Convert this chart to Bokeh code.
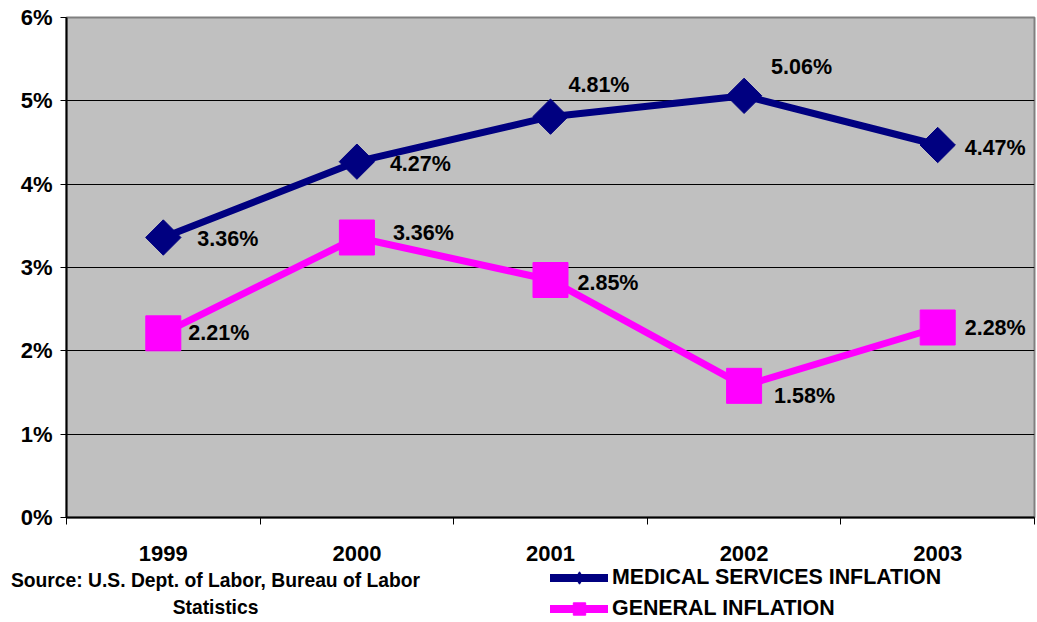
import numpy as np
from bokeh.plotting import figure
from bokeh.layouts import column
from bokeh.models import (Range1d, FixedTicker, PrintfTickFormatter, Legend,
                          LegendItem, Label, ColumnDataSource)
from bokeh.core.properties import value
from bokeh.embed import file_html
from bokeh.resources import INLINE

# ---- data ----
years = ["1999", "2000", "2001", "2002", "2003"]
medical = [3.36, 4.27, 4.81, 5.06, 4.47]
general = [2.21, 3.36, 2.85, 1.58, 2.28]
y_ticks = [0, 1, 2, 3, 4, 5, 6]
series_names = ["MEDICAL SERVICES INFLATION", "GENERAL INFLATION"]
source_lines = ["Source: U.S. Dept. of Labor, Bureau of Labor", "Statistics"]

# ---- label placement (pixels, layout only) ----
med_dx = [34, 33, 18, 27, 27]
med_dy = [1, 2, -32, -29, 3]
gen_dx = [25, 36, 27, 30, 27]
gen_dy = [0, -5, 3, 10, 0]

FONT = "Liberation Sans"
NAVY = "#000080"
MAGENTA = "#FF00FF"
W = 1037
H1 = 564
H2 = 58
OFF = 200  # keeps the strip's own view away from the series values

xs = list(range(len(years)))
src_med = ColumnDataSource(dict(x=xs, y=medical, lab=[f"{v:.2f}%" for v in medical],
                                dx=med_dx, dy=med_dy))
src_gen = ColumnDataSource(dict(x=xs, y=general, lab=[f"{v:.2f}%" for v in general],
                                dx=gen_dx, dy=gen_dy))

p = figure(width=W, height=H1, output_backend="svg", toolbar_location=None,
           x_range=Range1d(-0.5, len(years) - 0.5), y_range=Range1d(0, 6),
           min_border_left=66, min_border_right=3, min_border_top=17, min_border_bottom=47)
p.background_fill_color = "#C0C0C0"
p.border_fill_color = "white"
p.outline_line_color = "#808080"
p.outline_line_width = 2

# axes
p.xaxis.ticker = FixedTicker(ticks=xs, minor_ticks=[i - 0.5 for i in range(len(years) + 1)])
p.xaxis.major_label_overrides = {i: y for i, y in enumerate(years)}
p.xaxis.major_tick_in = 0
p.xaxis.major_tick_out = 0
p.xaxis.minor_tick_in = 0
p.xaxis.minor_tick_out = 7
p.xaxis.minor_tick_line_color = "black"
p.xaxis.major_label_standoff = 21
p.yaxis.ticker = FixedTicker(ticks=y_ticks)
p.yaxis.formatter = PrintfTickFormatter(format="%d%%")
p.yaxis.major_tick_in = 0
p.yaxis.major_tick_out = 6
p.yaxis.minor_tick_line_color = None
p.yaxis.major_label_standoff = 8
for ax in (p.xaxis, p.yaxis):
    ax.axis_line_color = "black"
    ax.axis_line_width = 2
    ax.major_tick_line_color = "black"
    ax.major_label_text_font = FONT
    ax.major_label_text_font_style = "bold"
    ax.major_label_text_color = "black"
p.xaxis.major_label_text_font_size = "22px"
p.yaxis.major_label_text_font_size = "22px"

p.xgrid.visible = False
p.ygrid.ticker = FixedTicker(ticks=y_ticks)
p.ygrid.grid_line_color = "black"
p.ygrid.grid_line_width = 1

# series
p.line("x", "y", source=src_med, line_color=NAVY, line_width=7, line_cap="round")
p.scatter("x", "y", source=src_med, marker="square", angle=np.pi / 4, size=25,
          fill_color=NAVY, line_color=NAVY)
p.line("x", "y", source=src_gen, line_color=MAGENTA, line_width=7, line_cap="round")
p.scatter("x", "y", source=src_gen, marker="square", size=35,
          fill_color=MAGENTA, line_color=MAGENTA)

for src in (src_med, src_gen):
    p.text("x", "y", text="lab", source=src, x_offset="dx", y_offset="dy",
           text_align="left", text_baseline="middle", text_color="black",
           text_font=value(FONT), text_font_style="bold", text_font_size="21.5px")

# ---- bottom strip: source note and legend ----
q = figure(width=W, height=H2, output_backend="svg", toolbar_location=None,
           x_range=Range1d(0, W), y_range=Range1d(-H2 - OFF, -OFF),
           x_axis_location=None, y_axis_location=None,
           min_border_left=0, min_border_right=0, min_border_top=0, min_border_bottom=0)
try:
    q.frame_align = False
except Exception:
    pass
q.grid.visible = False
q.outline_line_color = None
q.background_fill_color = "white"
q.border_fill_color = "white"

k1 = q.line("x", "y", source=src_med, line_color=NAVY, line_width=8, line_cap="round")
d1 = q.scatter("x", "y", source=src_med, marker="diamond", size=16, fill_color=NAVY, line_color=NAVY)
k2 = q.line("x", "y", source=src_gen, line_color=MAGENTA, line_width=8, line_cap="round")
d2 = q.scatter("x", "y", source=src_gen, marker="square", size=16, fill_color=MAGENTA, line_color=MAGENTA)

legend = Legend(items=[LegendItem(label=series_names[0], renderers=[k1, d1]),
                       LegendItem(label=series_names[1], renderers=[k2, d2])],
                location=(550, -2), orientation="vertical",
                glyph_width=58, glyph_height=31, label_height=31, spacing=0,
                padding=0, margin=0, border_line_color=None, background_fill_alpha=0,
                label_standoff=4, label_text_font=FONT, label_text_font_style="bold",
                label_text_font_size="21.4px", label_text_color="black")
q.add_layout(legend)

for txt, yy in zip(source_lines, (-16 - OFF, -43 - OFF)):
    q.add_layout(Label(x=215, y=yy, text=txt, text_align="center", text_baseline="middle",
                       text_font=FONT, text_font_style="bold", text_font_size="19.3px",
                       text_color="black"))

layout = column(p, q, spacing=0)
open("out.html", "w").write(file_html(layout, INLINE))
